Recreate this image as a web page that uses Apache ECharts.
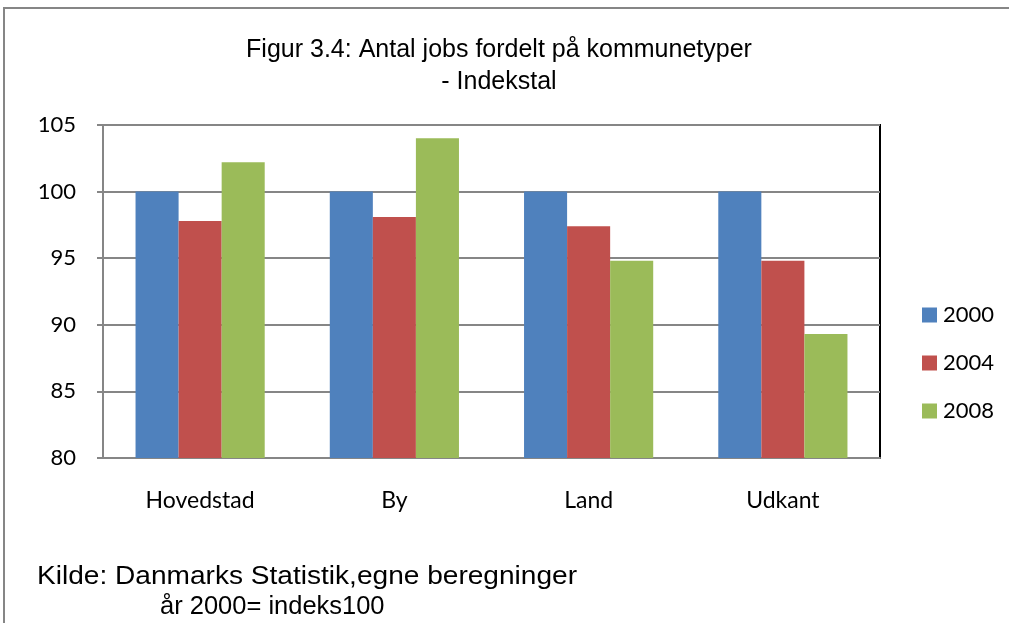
<!DOCTYPE html>
<html>
<head>
<meta charset="utf-8">
<script src="https://cdn.jsdelivr.net/npm/echarts@6/dist/echarts.min.js"></script>
<style>
  html, body { margin: 0; padding: 0; background: #fff; }
  #main { width: 1009px; height: 623px; }
</style>
</head>
<body>
<div id="main"></div>
<script>
// data
var categories = ['Hovedstad', 'By', 'Land', 'Udkant'];
var years = ['2000', '2004', '2008'];
var values2000 = [100, 100, 100, 100];
var values2004 = [97.8, 98.1, 97.4, 94.8];
var values2008 = [102.2, 104.0, 94.8, 89.3];
var yTicks = [80, 85, 90, 95, 100, 105];

var colors = ['#4f81bd', '#c0504d', '#9bbb59'];
var serieValues = [values2000, values2004, values2008];

var myChart = echarts.init(document.getElementById('main'));

var series = [];
for (var i = 0; i < years.length; i++) {
    series.push({
        name: years[i],
        type: 'bar',
        data: serieValues[i],
        barGap: 0,
        barCategoryGap: '33.5%',
        itemStyle: { color: colors[i] }
    });
}

var option = {
    animation: false,
    textStyle: { fontFamily: 'Liberation Sans, Arial, sans-serif' },
    title: {
        text: 'Figur 3.4: Antal jobs fordelt på kommunetyper\n- Indekstal',
        left: 494,
        top: 29,
        textAlign: 'center',
        textStyle: {
            fontFamily: 'Liberation Sans, Arial, sans-serif',
            fontWeight: 'normal',
            fontSize: 25,
            lineHeight: 32,
            color: '#000'
        }
    },
    legend: {
        orient: 'vertical',
        left: 917,
        top: 299,
        itemWidth: 15,
        itemHeight: 15,
        itemGap: 26,
        icon: 'rect',
        data: years,
        textStyle: { fontFamily: 'Lato, Noto Sans, sans-serif', fontSize: 22, color: '#000', padding: [0, 0, 0, 1] }
    },
    color: colors,
    grid: {
        left: 103,
        right: 129,
        top: 125,
        bottom: 165,
        show: true,
        borderColor: '#000',
        borderWidth: 2
    },
    xAxis: {
        type: 'category',
        data: categories,
        axisLine: { lineStyle: { color: '#868686', width: 2 } },
        axisTick: { show: false },
        axisLabel: { margin: 31, fontFamily: 'Lato, Noto Sans, sans-serif', fontSize: 23, color: '#000' }
    },
    yAxis: {
        type: 'value',
        min: yTicks[0],
        max: yTicks[yTicks.length - 1],
        interval: 5,
        axisLine: { show: true, lineStyle: { color: '#868686', width: 2 } },
        axisTick: { show: true, length: 6, lineStyle: { color: '#868686', width: 2 } },
        splitLine: { lineStyle: { color: '#868686', width: 2 } },
        axisLabel: { margin: 27, fontFamily: 'Lato, Noto Sans, sans-serif', fontSize: 22, color: '#000' }
    },
    graphic: [
        {
            type: 'rect',
            shape: { x: 4, y: 8, width: 1020, height: 630 },
            style: { fill: 'none', stroke: '#868686', lineWidth: 2 },
            silent: true
        },
        {
            type: 'text',
            x: 37,
            y: 564,
            scaleX: 1.08,
            style: { text: 'Kilde: Danmarks Statistik,egne beregninger', font: '26px "Liberation Sans", Arial, sans-serif', fill: '#000' }
        },
        {
            type: 'text',
            x: 160,
            y: 594,
            scaleX: 0.98,
            style: { text: 'år 2000= indeks100', font: '26px "Liberation Sans", Arial, sans-serif', fill: '#000' }
        }
    ],
    series: series
};

myChart.setOption(option);
</script>
</body>
</html>
